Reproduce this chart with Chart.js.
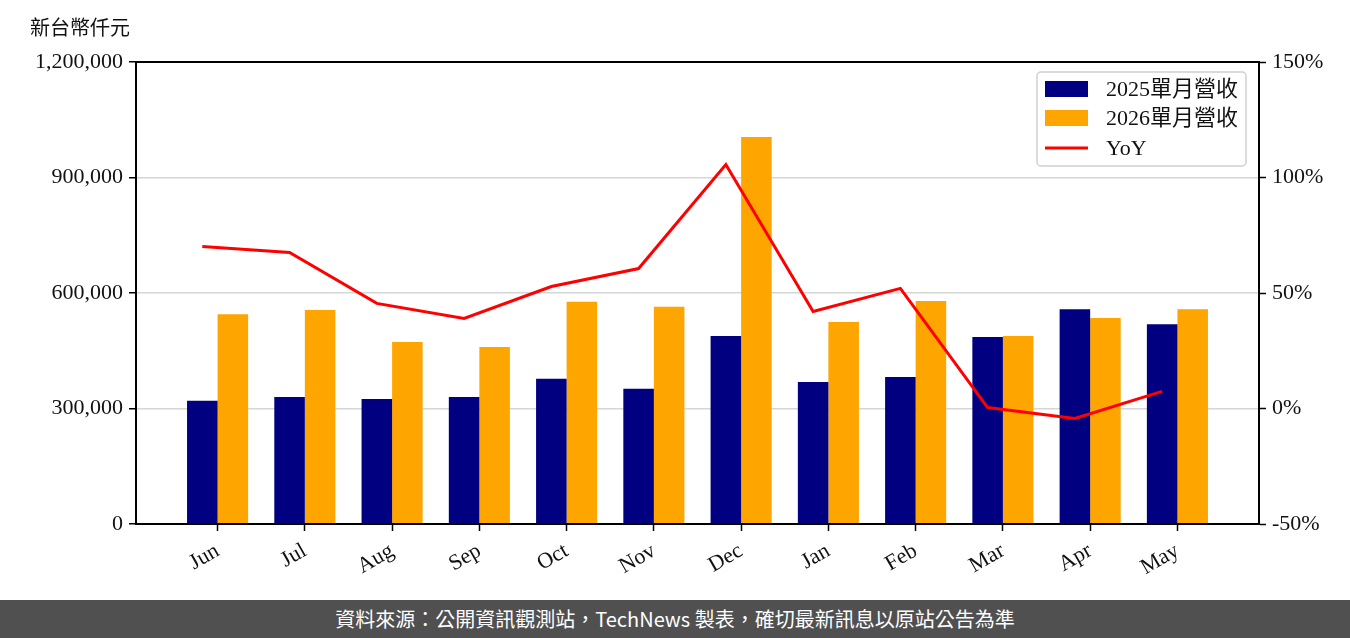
<!DOCTYPE html>
<html>
<head>
<meta charset="utf-8">
<script src="https://cdn.jsdelivr.net/npm/chart.js"></script>
<style>
  body { margin: 0; background: #fff; }
  #wrap { position: relative; width: 1350px; height: 638px; overflow: hidden; }
  #unit { position: absolute; left: 30px; top: 12px; font: 20px 'Noto Sans CJK TC', sans-serif; color: #111; }
  #footer { position: absolute; left: 0; top: 600px; width: 1350px; height: 38px; background: #505050;
            color: #fff; font: 20px 'Noto Sans CJK TC', 'Noto Sans', sans-serif; text-align: center; line-height: 38px; }
  canvas { position: absolute; left: 0; top: 0; }
</style>
</head>
<body>
<div id="wrap">
  <canvas id="revChart" width="1350" height="600"></canvas>
  <div id="unit">新台幣仟元</div>
  <div id="footer">資料來源：公開資訊觀測站，TechNews 製表，確切最新訊息以原站公告為準</div>
</div>
<script>
// monthly revenue, thousand NTD
const months = ['Jun', 'Jul', 'Aug', 'Sep', 'Oct', 'Nov', 'Dec', 'Jan', 'Feb', 'Mar', 'Apr', 'May'];
const rev2025 = [320000, 330000, 325000, 330000, 377000, 351000, 488000, 369000, 382000, 486000, 558000, 519000];
const rev2026 = [545000, 556000, 473000, 460000, 577000, 564000, 1005000, 525000, 579000, 488000, 535000, 558000];
const yoy = [70.1, 67.5, 45.5, 39.0, 52.8, 60.6, 105.6, 42.0, 52.0, 0.4, -4.3, 7.4];
const leftTicks = [0, 300000, 600000, 900000, 1200000];
const rightTicks = [-50, 0, 50, 100, 150];

const serif = "'Liberation Serif', 'Noto Sans CJK TC', serif";

// frame on all four sides + legend inside the plot
const framePlugin = {
    id: 'frame',
    afterDraw(chart) {
        const c = chart.ctx, a = chart.chartArea;
        c.save();
        c.strokeStyle = '#000';
        c.lineWidth = 2;
        c.strokeRect(a.left, a.top, a.right - a.left, a.bottom - a.top);

        // legend box
        const bx = 1037, by = 72, bw = 209, bh = 94;
        c.fillStyle = 'rgba(255,255,255,0.8)';
        c.strokeStyle = '#d0d0d0';
        c.lineWidth = 1.5;
        c.beginPath();
        c.roundRect(bx, by, bw, bh, 4);
        c.fill();
        c.stroke();

        const rows = [89, 118, 148];
        chart.data.datasets.slice().reverse().forEach(function (ds, i) {
            const y = rows[i];
            if (ds.type === 'line') {
                c.strokeStyle = ds.borderColor;
                c.lineWidth = 3;
                c.beginPath();
                c.moveTo(1045, y);
                c.lineTo(1088, y);
                c.stroke();
            } else {
                c.fillStyle = ds.backgroundColor;
                c.fillRect(1045, y - 8, 43, 16);
            }
            c.fillStyle = '#111';
            c.font = '22px ' + serif;
            c.textBaseline = 'middle';
            c.fillText(ds.label, 1106, y + 1);
        });
        c.restore();
    }
};

const ctx = document.getElementById('revChart').getContext('2d');
const revChart = new Chart(ctx, {
    data: {
        datasets: [{
            type: 'line',
            label: 'YoY',
            data: yoy.map((v, i) => ({ x: i - 0.175, y: v })),
            borderColor: '#ff0000',
            borderWidth: 3,
            pointRadius: 0,
            tension: 0,
            yAxisID: 'y1',
            order: 0
        }, {
            type: 'bar',
            label: '2026單月營收',
            data: rev2026.map((v, i) => ({ x: i, y: v })),
            backgroundColor: '#ffa500',
            categoryPercentage: 0.7,
            barPercentage: 1.0,
            yAxisID: 'y',
            order: 2
        }, {
            type: 'bar',
            label: '2025單月營收',
            data: rev2025.map((v, i) => ({ x: i, y: v })),
            backgroundColor: '#000080',
            categoryPercentage: 0.7,
            barPercentage: 1.0,
            yAxisID: 'y',
            order: 1
        }]
    },
    options: {
        responsive: false,
        animation: false,
        layout: { padding: { top: 62, left: 0, right: 0, bottom: 0 } },
        plugins: {
            legend: { display: false },
            tooltip: { enabled: false }
        },
        scales: {
            x: {
                type: 'linear',
                offset: false,
                min: -0.935,
                max: 11.935,
                afterBuildTicks: s => { s.ticks = months.map((m, i) => ({ value: i })); },
                afterFit: s => { s.height = 76; },
                ticks: {
                    callback: v => months[v],
                    minRotation: 30,
                    maxRotation: 30,
                    color: '#111',
                    padding: 7,
                    font: { family: serif, size: 22 }
                },
                grid: { offset: false, drawOnChartArea: false, tickLength: 7, tickColor: '#000', tickWidth: 1.5 },
                border: { color: '#000', width: 2 }
            },
            y: {
                position: 'left',
                min: 0,
                max: 1200000,
                afterBuildTicks: s => { s.ticks = leftTicks.map(v => ({ value: v })); },
                afterFit: s => { s.width = 136; },
                ticks: {
                    callback: v => v.toLocaleString('en-US'),
                    color: '#111',
                    padding: 6,
                    font: { family: serif, size: 22 }
                },
                grid: { color: '#d6d6d6', lineWidth: 1.5, tickLength: 7, tickColor: '#000', tickWidth: 1.5 },
                border: { color: '#000', width: 2 }
            },
            y1: {
                position: 'right',
                min: -50,
                max: 150,
                afterBuildTicks: s => { s.ticks = rightTicks.map(v => ({ value: v })); },
                afterFit: s => { s.width = 91; },
                ticks: {
                    callback: v => v + '%',
                    color: '#111',
                    padding: 6,
                    font: { family: serif, size: 22 }
                },
                grid: { drawOnChartArea: false, tickLength: 7, tickColor: '#000', tickWidth: 1.5 },
                border: { color: '#000', width: 2 }
            }
        }
    },
    plugins: [framePlugin]
});
</script>
</body>
</html>
